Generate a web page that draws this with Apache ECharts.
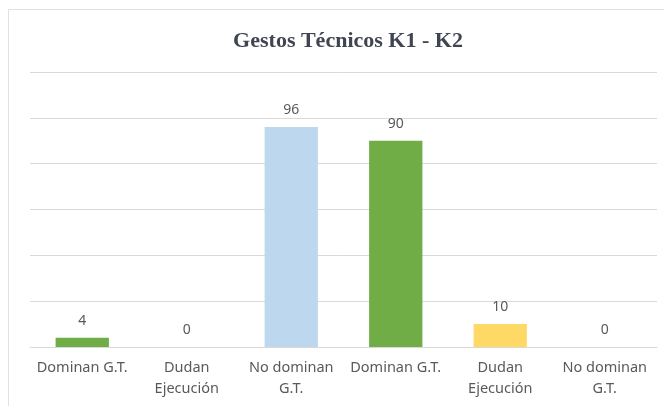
<!DOCTYPE html>
<html>
<head>
<meta charset="utf-8">
<script src="https://cdn.jsdelivr.net/npm/echarts@6/dist/echarts.min.js"></script>
<style>
  html, body { margin: 0; padding: 0; background: #fff; }
  #chart { width: 664px; height: 406px; }
</style>
</head>
<body>
<div id="chart"></div>
<script>
// categories and values
var categories = ['Dominan G.T.', 'Dudan\nEjecución', 'No dominan\nG.T.', 'Dominan G.T.', 'Dudan\nEjecución', 'No dominan\nG.T.']
var values = [4, 0, 96, 90, 10, 0]
var barColors = ['#70AD47', '#5B9BD5', '#BDD7EE', '#70AD47', '#FFD966', '#A5A5A5']

var chart = echarts.init(document.getElementById('chart'))

chart.setOption({
  backgroundColor: '#fff',
  animation: false,
  title: {
    text: 'Gestos Técnicos K1 - K2',
    left: 343,
    top: 25,
    textAlign: 'center',
    textStyle: {
      fontFamily: 'Liberation Serif',
      fontWeight: 'bold',
      fontSize: 22,
      color: '#404552'
    }
  },
  graphic: [{
    type: 'rect',
    shape: { x: 8.5, y: 9.5, width: 700, height: 500 },
    style: { fill: 'none', stroke: '#DDE1E8', lineWidth: 1 },
    silent: true
  }],
  grid: {
    left: 30,
    right: 7,
    top: 72,
    bottom: 59
  },
  xAxis: {
    type: 'category',
    data: categories,
    axisLine: { lineStyle: { color: '#D9D9D9' } },
    axisTick: { show: false },
    axisLabel: {
      interval: 0,
      margin: 10,
      color: '#595959',
      fontFamily: 'Noto Sans',
      fontSize: 14.5,
      lineHeight: 21
    }
  },
  yAxis: {
    type: 'value',
    min: 0,
    max: 120,
    interval: 20,
    axisLabel: { show: false },
    axisLine: { show: false },
    axisTick: { show: false },
    splitLine: { lineStyle: { color: '#D9D9D9' } }
  },
  series: [{
    type: 'bar',
    barWidth: '51%',
    data: values.map(function(v, i) {
      return { value: v, itemStyle: { color: barColors[i] } }
    }),
    label: {
      show: true,
      position: 'top',
      distance: 10,
      color: '#595959',
      fontFamily: 'Noto Sans',
      fontSize: 14
    }
  }]
})
</script>
</body>
</html>
